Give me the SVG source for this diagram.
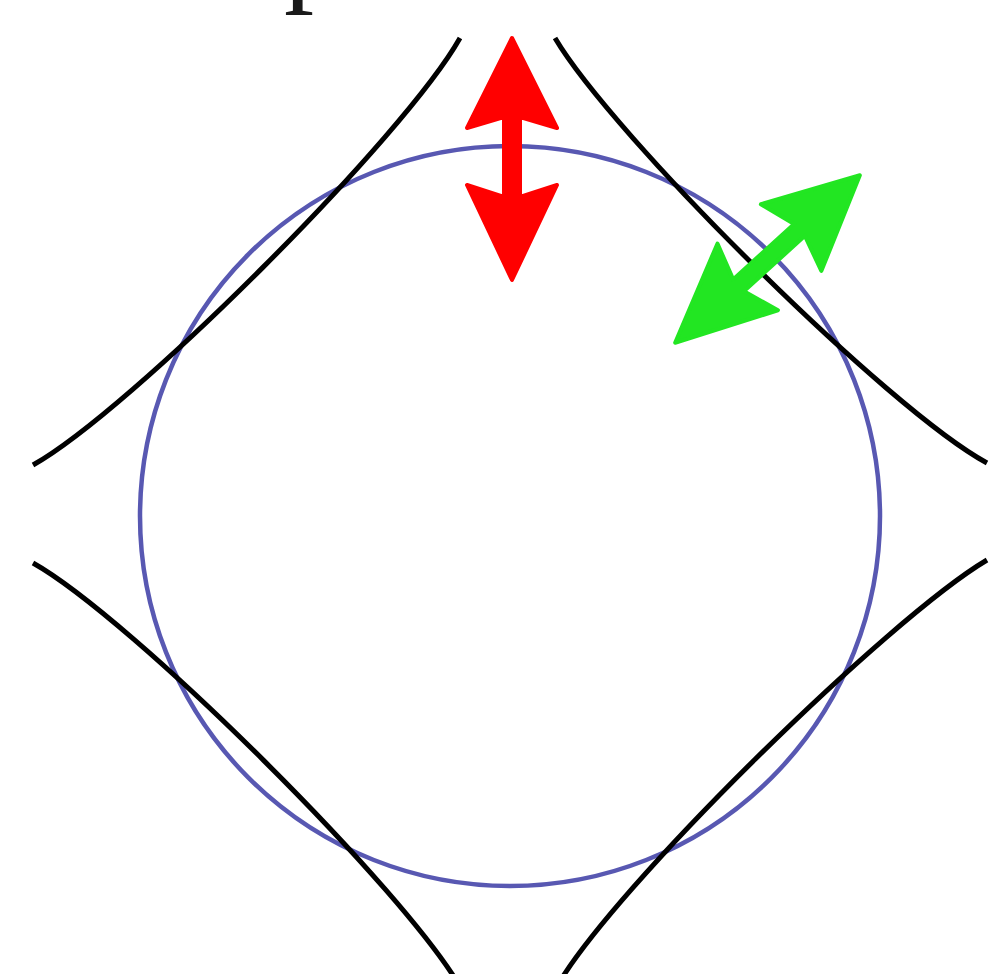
<svg xmlns="http://www.w3.org/2000/svg" width="1000" height="974" viewBox="0 0 1000 974">
  <style>
    .curve { fill: none; stroke: #000000; stroke-width: 5; stroke-linecap: butt; }
    .ring { fill: none; stroke: #5858b2; stroke-width: 4.5; }
    .label { font-family: "Liberation Serif", "Times New Roman", serif; font-size: 120px; fill: #1a1a1a; }
  </style>
  <defs>
    <path id="dblarrow" d="M0,-121 L45,-31 L8,-42 L8,38 L45,26 L0,121 L-45,26 L-8,38 L-8,-42 L-45,-31 Z" stroke-linejoin="round" stroke-width="4"/>
  </defs>
  <rect width="1000" height="974" fill="#ffffff"/>
  <g id="label-p">
    <text class="label" x="284" y="-11">p</text>
  </g>
  <g id="circle">
    <circle class="ring" cx="510" cy="516" r="370"/>
  </g>
  <g id="connectors">
    <path class="curve" d="M460,38 C405,136 131,410 33,465"/>
    <path class="curve" d="M555,38 C613,136 889,410 987,463"/>
    <path class="curve" d="M462,990 C407,892 131,618 33,563"/>
    <path class="curve" d="M556,988 C611,890 889,618 987,560"/>
  </g>
  <g id="red-arrow">
    <use href="#dblarrow" transform="translate(512,159)" fill="#ff0000" stroke="#ff0000"/>
  </g>
  <g id="green-arrow">
    <use href="#dblarrow" transform="translate(767.5,259) rotate(47.8) scale(1,1.03)" fill="#22e622" stroke="#22e622"/>
  </g>
</svg>
